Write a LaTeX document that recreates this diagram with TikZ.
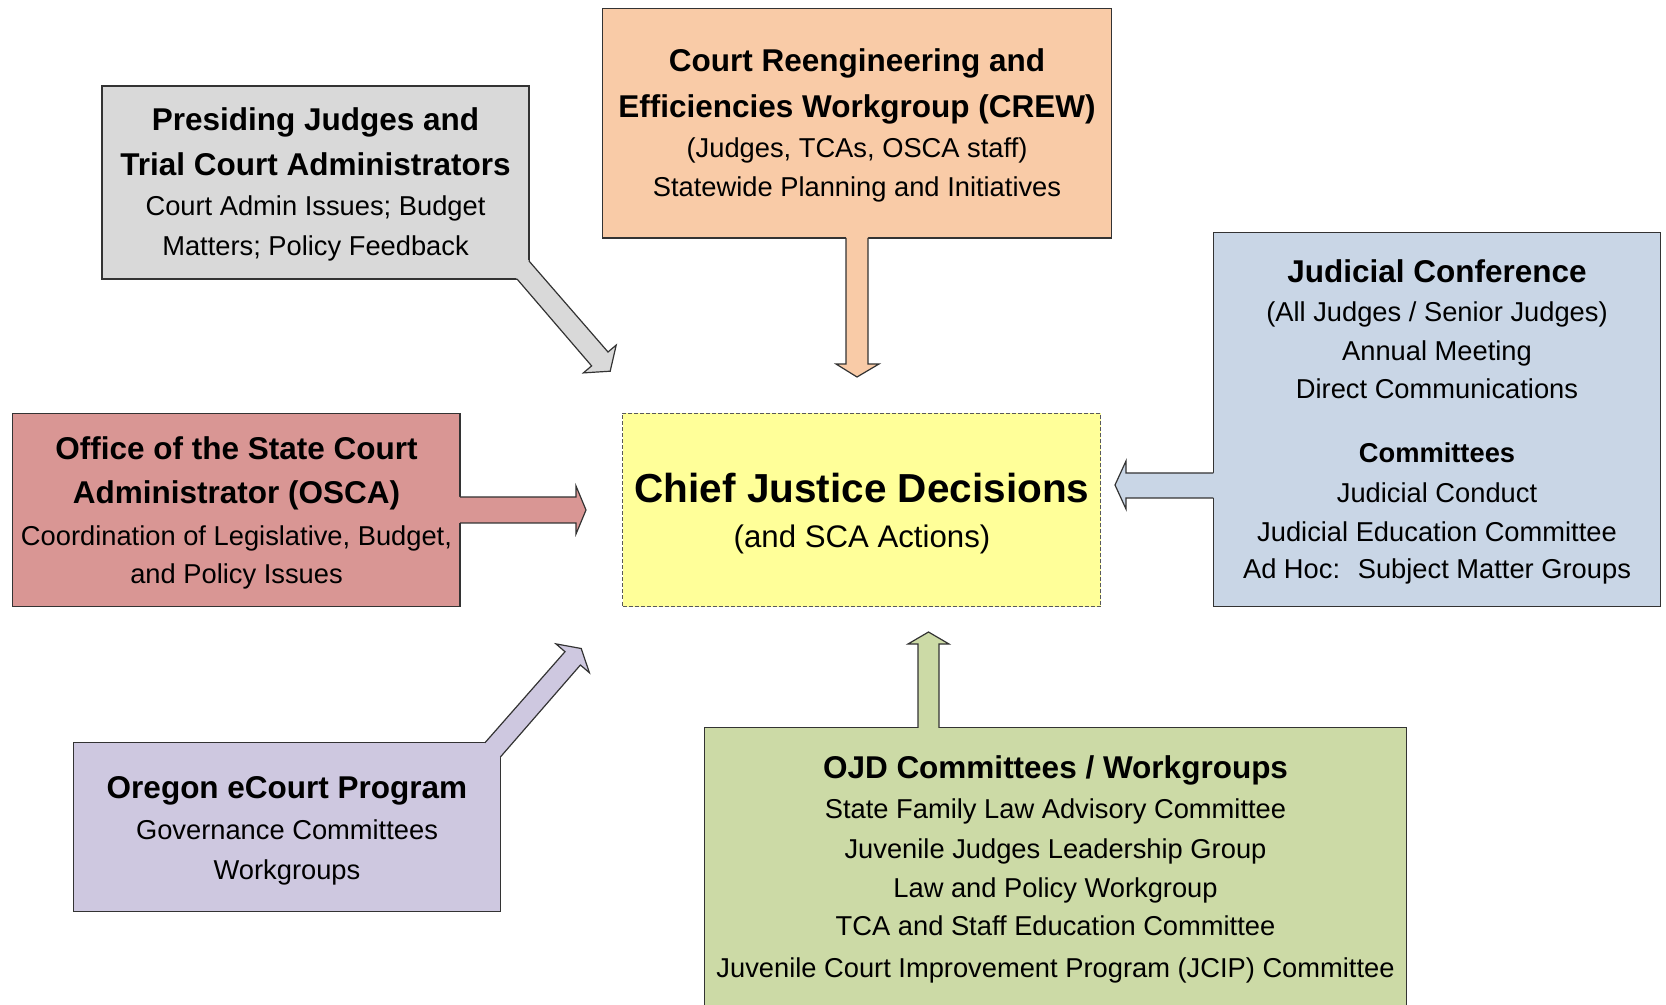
\documentclass[tikz,border=0pt]{standalone}
\usepackage{fontspec}
\setmainfont{Liberation Sans}
\definecolor{pjcol}{HTML}{D9D9D9}
\definecolor{crewcol}{HTML}{F9CBA7}
\definecolor{jccol}{HTML}{C9D6E6}
\definecolor{oscacol}{HTML}{D99694}
\definecolor{chiefcol}{HTML}{FFFF99}
\definecolor{ecol}{HTML}{CEC8E0}
\definecolor{ojdcol}{HTML}{CCDAA6}
\definecolor{edge}{HTML}{333333}
\begin{document}
\begin{tikzpicture}[x=0.5pt,y=-0.5pt,
  box/.style={draw=edge, line width=0.6pt, inner sep=0pt, outer sep=0pt},
  chiefbox/.style={draw=black!65, line width=0.5pt, dash pattern=on 2pt off 1pt, inner sep=0pt, outer sep=0pt},
  arrline/.style={draw=edge, line width=0.6pt, line join=miter},
  t/.style={anchor=base, inner sep=0pt, font=\fontsize{13.65}{16}\selectfont},
  tb/.style={anchor=base, inner sep=0pt, font=\bfseries\fontsize{15.75}{18}\selectfont},
  tc/.style={anchor=base, inner sep=0pt, font=\bfseries\fontsize{13.65}{16}\selectfont},
  tbig/.style={anchor=base, inner sep=0pt, font=\bfseries\fontsize{20.25}{24}\selectfont},
  tsub/.style={anchor=base, inner sep=0pt, font=\fontsize{15.6}{18}\selectfont}]
\useasboundingbox (0,0) rectangle (1666,1005);
\clip (0,0) rectangle (1666,1005);

% boxes
\node[box, fill=pjcol, minimum width=213.5pt, minimum height=96.5pt] (pj) at (315.5,182.5) {};
\node[box, fill=crewcol, minimum width=254.5pt, minimum height=114.75pt] (crew) at (856.9,123.25) {};
\node[box, fill=jccol, minimum width=223.65pt, minimum height=187pt] (jc) at (1437,419.7) {};
\node[box, fill=oscacol, minimum width=223.6pt, minimum height=96.7pt] (osca) at (236.4,510) {};
\node[chiefbox, fill=chiefcol, minimum width=239.1pt, minimum height=96.7pt] (chief) at (861.7,510) {};
\node[box, fill=ecol, minimum width=213.55pt, minimum height=84.45pt] (ec) at (286.85,827.15) {};
\node[box, fill=ojdcol, minimum width=351.2pt, minimum height=143.6pt] (ojd) at (1055.6,871.4) {};

% block arrows
% presiding -> chief
\fill[pjcol] (515,276.7) -- (591.6,365.9) -- (583.4,372.9) -- (610.2,371.2) -- (616.2,345.1) -- (608,352) -- (527,258.7) -- cycle;
\draw[arrline] (517,279) -- (591.6,365.9) -- (583.4,372.9) -- (610.2,371.2) -- (616.2,345.1) -- (608,352) -- (529,261);
% crew -> chief
\fill[crewcol] (846,235) -- (846,364) -- (836,364) -- (857,377) -- (879,364) -- (868,364) -- (868,235) -- cycle;
\draw[arrline] (846,238) -- (846,364) -- (836,364) -- (857,377) -- (879,364) -- (868,364) -- (868,238);
% jc -> chief
\fill[jccol] (1217,473) -- (1126,473) -- (1126,461) -- (1115,485) -- (1126,509) -- (1126,498) -- (1217,498) -- cycle;
\draw[arrline] (1213.4,473) -- (1126,473) -- (1126,461) -- (1115,485) -- (1126,509) -- (1126,498) -- (1213.4,498);
% osca -> chief
\fill[oscacol] (457,497) -- (576,497) -- (576,486) -- (586,510) -- (576,534) -- (576,523) -- (457,523) -- cycle;
\draw[arrline] (460,497) -- (576,497) -- (576,486) -- (586,510) -- (576,534) -- (576,523) -- (460,523);
% ecourt -> chief
\fill[ecol] (483,745) -- (565,651.7) -- (556,643.9) -- (581.2,648.5) -- (589.4,672.7) -- (580.4,665) -- (498.4,759.3) -- cycle;
\draw[arrline] (485,742.7) -- (565,651.7) -- (556,643.9) -- (581.2,648.5) -- (589.4,672.7) -- (580.4,665) -- (500.4,757);
% ojd -> chief
\fill[ojdcol] (918,731) -- (918,644) -- (908,644) -- (928.5,632) -- (949,644) -- (939,644) -- (939,731) -- cycle;
\draw[arrline] (918,727.8) -- (918,644) -- (908,644) -- (928.5,632) -- (949,644) -- (939,644) -- (939,727.8);

% texts
\node[tb] (pj1) at (315.5,131) {Presiding Judges and};
\node[tb] (pj2) at (315.5,175.7) {Trial Court Administrators};
\node[t] (pj3) at (315.5,216) {Court Admin Issues; Budget};
\node[t] (pj4) at (315.5,255.4) {Matters; Policy Feedback};

\node[tb] (cr1) at (857,71.6) {Court Reengineering and};
\node[tb] (cr2) at (857,117.25) {Efficiencies Workgroup (CREW)};
\node[t] (cr3) at (857,157.7) {(Judges, TCAs, OSCA staff)};
\node[t] (cr4) at (857,197) {Statewide Planning and Initiatives};

\node[tb] (jc1) at (1437,283) {Judicial Conference};
\node[t] (jc2) at (1437,321.7) {(All Judges / Senior Judges)};
\node[t] (jc3) at (1437,360.7) {Annual Meeting};
\node[t] (jc4) at (1437,398.5) {Direct Communications};
\node[tc] (jc5) at (1437,463) {Committees};
\node[t] (jc6) at (1437,502.3) {Judicial Conduct};
\node[t] (jc7) at (1437,541.3) {Judicial Education Committee};
\node[t] (jc8) at (1437,578.5) {Ad Hoc:~ Subject Matter Groups};

\node[tb] (os1) at (236.5,459.4) {Office of the State Court};
\node[tb] (os2) at (236.5,504) {Administrator (OSCA)};
\node[t] (os3) at (236.5,545.5) {Coordination of Legislative, Budget,};
\node[t] (os4) at (236.5,583.75) {and Policy Issues};

\node[tbig] (ch1) at (862,503) {Chief Justice Decisions};
\node[tsub] (ch2) at (862,548) {(and SCA Actions)};

\node[tb] (ec1) at (287,798.3) {Oregon eCourt Program};
\node[t] (ec2) at (287,839.8) {Governance Committees};
\node[t] (ec3) at (287,879) {Workgroups};

\node[tb] (oj1) at (1055.5,778) {OJD Committees / Workgroups};
\node[t] (oj2) at (1055.5,818.6) {State Family Law Advisory Committee};
\node[t] (oj3) at (1055.5,858) {Juvenile Judges Leadership Group};
\node[t] (oj4) at (1055.5,897) {Law and Policy Workgroup};
\node[t] (oj5) at (1055.5,935.4) {TCA and Staff Education Committee};
\node[t] (oj6) at (1055.5,977) {Juvenile Court Improvement Program (JCIP) Committee};
\end{tikzpicture}
\end{document}
